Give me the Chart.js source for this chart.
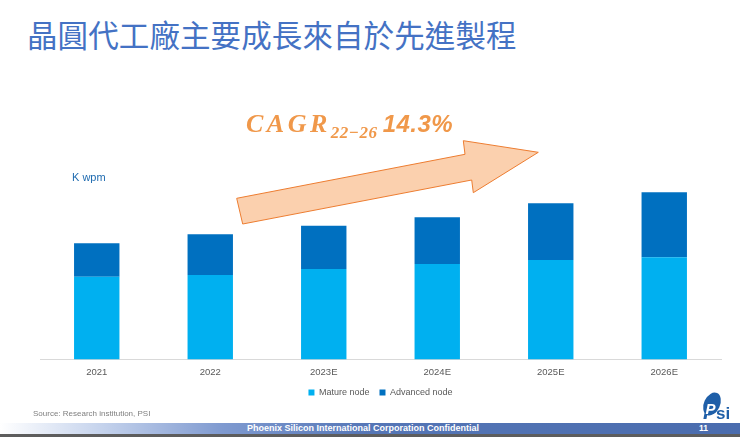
<!DOCTYPE html>
<html>
<head>
<meta charset="utf-8">
<script src="https://cdn.jsdelivr.net/npm/chart.js@4"></script>
<style>
  html, body { margin:0; padding:0; background:#fff; }
  #wrap { position:relative; width:740px; height:437px; overflow:hidden; background:#fff; font-family:"Liberation Sans", Arial, sans-serif; }
  #chartBox { position:absolute; left:0; top:0; width:740px; height:415px; }
  #title { position:absolute; left:27px; top:12px; font-family:"Noto Sans CJK TC","Noto Sans CJK SC",sans-serif; font-size:30.5px; color:#4472C4; font-weight:400; letter-spacing:0.1px; white-space:nowrap; line-height:44px; }
  #unit { position:absolute; left:72px; top:171px; font-size:11px; color:#1F6BB0; }
  #cagr { position:absolute; left:246px; top:109px; color:#F0984A; white-space:nowrap; }
  #cagr .c { font-family:"Liberation Serif", serif; font-style:italic; font-weight:bold; font-size:26px; letter-spacing:3.5px; }
  #cagr .s { font-family:"Liberation Serif", serif; font-style:italic; font-weight:bold; font-size:17px; position:relative; top:6px; letter-spacing:0.5px; }
  #cagr .p { font-family:"Liberation Sans", sans-serif; font-style:italic; font-weight:bold; font-size:24px; margin-left:5px; letter-spacing:0.5px; }
  #source { position:absolute; left:33px; top:409px; font-family:"Liberation Sans Narrow","Liberation Sans",sans-serif; font-size:8px; color:#7f7f7f; }
  #footer { position:absolute; left:0; top:423px; width:740px; height:11px; background:linear-gradient(to right,#ffffff 0%,#c4d2ec 14%,#7f9ad0 30%,#5576b6 50%,#4a6cae 100%); }
  #footer2 { position:absolute; left:0; top:434px; width:740px; height:3px; background:#5d5d5d; }
  #ftxt { position:absolute; left:0; top:423px; width:726px; height:11px; text-align:center; color:#fff; font-family:"Liberation Sans Narrow","Liberation Sans",sans-serif; font-weight:bold; font-size:9px; line-height:11px; }
  #pnum { position:absolute; left:699px; top:423px; color:#fff; font-weight:bold; font-size:8.5px; line-height:11px; }
  svg { position:absolute; left:0; top:0; }
</style>
</head>
<body>
<div id="wrap">
  <div id="title">晶圓代工廠主要成長來自於先進製程</div>
  <div id="chartBox"><canvas id="c"></canvas></div>
  <svg width="740" height="437" style="pointer-events:none">
    <polygon points="236.7,198.3 465,154.3 463.3,140.7 538.3,152.3 473.3,192.7 471.7,180 242.7,224"
      fill="#FBD0AE" stroke="#ED7D31" stroke-width="1"/>
    <ellipse cx="712" cy="404" rx="8" ry="12" transform="rotate(25 712 404)" fill="#1F5FA8"/>
    <text x="703" y="419" font-family="Liberation Sans" font-weight="bold" font-size="21" fill="#1F5FA8" font-style="italic">P</text>
    <text x="705.5" y="414" font-family="Liberation Sans" font-weight="bold" font-size="15" fill="#ffffff" font-style="italic">P</text>
    <text x="716" y="419" font-family="Liberation Sans" font-weight="bold" font-size="17" fill="#1F5FA8">si</text>
  </svg>
  <div id="cagr"><span class="c">CAGR</span><span class="s">22−26</span><span class="p">14.3%</span></div>
  <div id="unit">K wpm</div>
  <div id="source">Source: Research institution, PSI</div>
  <div id="footer"></div>
  <div id="footer2"></div>
  <div id="ftxt">Phoenix Silicon International Corporation Confidential</div>
  <div id="pnum">11</div>
</div>
<script>
const categories = ["2021", "2022", "2023E", "2024E", "2025E", "2026E"];
const matureNode = [828, 845, 905, 955, 995, 1022];
const advancedNode = [334, 407, 433, 467, 567, 650];
const seriesNames = ["Mature node", "Advanced node"];
const yMax = 2000;

// lift the legend a little closer to the axis labels
const legendLift = {
  id: "legendLift",
  afterLayout(chart) {
    const lg = chart.legend;
    if (lg) { lg.top -= 8; lg.bottom -= 8; }
  }
};

new Chart(document.getElementById("c"), {
  type: "bar",
  data: {
    labels: categories,
    datasets: [
      { label: seriesNames[0], data: matureNode, backgroundColor: "#00B0F0", borderWidth: 0,
        categoryPercentage: 0.8, barPercentage: 0.5 },
      { label: seriesNames[1], data: advancedNode, backgroundColor: "#0070C0", borderWidth: 0,
        categoryPercentage: 0.8, barPercentage: 0.5 }
    ]
  },
  plugins: [legendLift],
  options: {
    responsive: true,
    maintainAspectRatio: false,
    animation: false,
    layout: { padding: { top: 159.5, left: 40, right: 19, bottom: 0 } },
    plugins: {
      tooltip: { enabled: false },
      legend: {
        position: "bottom",
        labels: { boxWidth: 6, boxHeight: 6, padding: 10, color: "#595959",
          font: { family: "Liberation Sans Narrow, Liberation Sans, sans-serif", size: 9 } }
      }
    },
    scales: {
      x: {
        stacked: true,
        grid: { display: false, drawTicks: false },
        border: { display: true, color: "#D9D9D9", width: 1 },
        ticks: { color: "#595959", padding: 7.5, font: { family: "Liberation Sans Narrow, Liberation Sans, sans-serif", size: 9.5 } }
      },
      y: {
        stacked: true, display: false, min: 0, max: yMax,
        grid: { display: false }
      }
    }
  }
});
</script>
</body>
</html>
